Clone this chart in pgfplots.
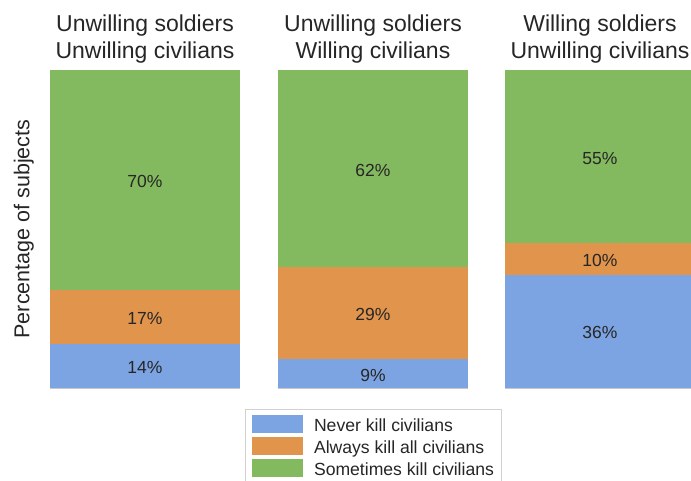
\documentclass[border=0pt]{standalone}
\usepackage{pgfplots}
\pgfplotsset{compat=1.18}
\usepackage{fontspec}
\setmainfont{Liberation Sans}
\definecolor{cblue}{HTML}{7CA4E2}
\definecolor{corange}{HTML}{E0944C}
\definecolor{cgreen}{HTML}{84BA5F}
\definecolor{ctext}{HTML}{262626}
\pgfplotsset{
  panel/.style={
    ybar stacked, bar width=190pt,
    width=190pt, height=318pt, scale only axis,
    xmin=-0.5, xmax=0.5, ymin=0,
    enlargelimits=false,
    separate axis lines,
    axis x line*=bottom, axis y line*=left,
    x axis line style={draw=black!22, line width=1.2pt, -},
    y axis line style={draw=none},
    xtick=\empty, ytick=\empty,
    anchor=south west,
    /pgf/number format/assume math mode=true,
    title style={align=center, font=\fontsize{23}{27}\selectfont, text=ctext,
      inner sep=0pt, at={(0.5,1)}, anchor=south, yshift=1pt},
    point meta=rawy,
    nodes near coords={\pgfmathprintnumber{\pgfplotspointmeta}\%},
    every node near coord/.append style={anchor=center, yshift=-1.5pt,
      font=\fontsize{17.5}{20}\selectfont, text=ctext},
  },
  sq/.style={legend image code/.code={\fill[##1] (0pt,-7pt) rectangle (51pt,11pt);}},
}
\begin{document}
\begin{tikzpicture}
\useasboundingbox (0,0) rectangle (691pt,-480pt);
% Panel 1
\begin{axis}[panel, at={(50pt,-388pt)}, ymax=101,
  title={Unwilling soldiers\\Unwilling civilians},
  ylabel={Percentage of subjects},
  ylabel style={at={(axis description cs:-0.084,0.5)}, anchor=south, rotate=0,
    inner sep=0pt, font=\fontsize{21.5}{24}\selectfont, text=ctext}]
\addplot[fill=cblue, draw=none] coordinates {(0,14)};
\addplot[fill=corange, draw=none] coordinates {(0,17)};
\addplot[fill=cgreen, draw=none] coordinates {(0,70)};
\end{axis}
% Panel 2
\begin{axis}[panel, sq, at={(278pt,-388pt)}, ymax=100,
  title={Unwilling soldiers\\Willing civilians},
  legend cell align=left,
  legend style={at={(axis description cs:0.5,0)}, anchor=north, yshift=-21pt,
    draw=black!18, line width=0.8pt, fill=white,
    font=\fontsize{17.6}{20}\selectfont, text=ctext,
    inner xsep=7pt, inner ysep=5.5pt, row sep=4pt,
    nodes={inner sep=0pt},
    /tikz/every odd column/.append style={column sep=11pt}}]
\addplot[fill=cblue, draw=none] coordinates {(0,9)};
\addplot[fill=corange, draw=none] coordinates {(0,29)};
\addplot[fill=cgreen, draw=none] coordinates {(0,62)};
\legend{Never kill civilians, Always kill all civilians, Sometimes kill civilians}
\end{axis}
% Panel 3
\begin{axis}[panel, at={(505pt,-388pt)}, ymax=101,
  title={Willing soldiers\\Unwilling civilians}]
\addplot[fill=cblue, draw=none] coordinates {(0,36)};
\addplot[fill=corange, draw=none] coordinates {(0,10)};
\addplot[fill=cgreen, draw=none] coordinates {(0,55)};
\end{axis}
\end{tikzpicture}
\end{document}
